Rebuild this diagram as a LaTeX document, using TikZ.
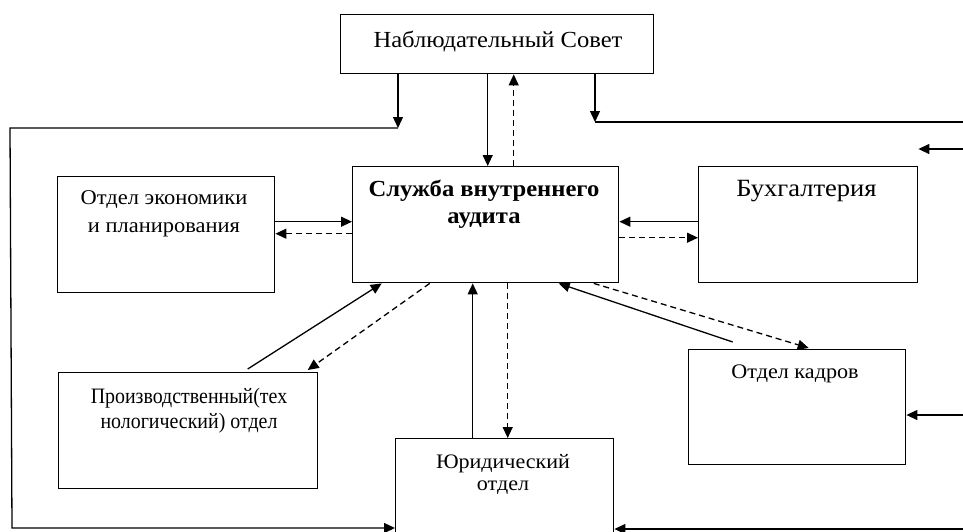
\documentclass[tikz,border=0pt]{standalone}
\usepackage{fontspec}
\setmainfont[FakeStretch=1.07]{Liberation Serif}
\newfontfamily\narrowserif[FakeStretch=0.905]{Liberation Serif}
\usetikzlibrary{arrows.meta}
\begin{document}
\begin{tikzpicture}[x=1pt,y=-1pt,
  box/.style={draw, line width=1.4pt, rectangle, inner sep=0, anchor=north west},
  lbl/.style={inner sep=0, align=center},
  conn/.style={line width=1.3pt, -{Triangle[length=11pt,width=10pt]}},
  dconn/.style={conn, dash pattern=on 6pt off 4pt},
  wire/.style={line width=1.3pt}]
\useasboundingbox (0,0) rectangle (963,531);
\clip (0,0) rectangle (963,531);

% boxes
\node[box, minimum width=313pt, minimum height=59pt]  (sovet)   at (340,14)  {};
\node[box, minimum width=266pt, minimum height=116pt] (sluzhba) at (352,166) {};
\node[box, minimum width=217pt, minimum height=116pt] (econ)    at (57,176)  {};
\node[box, minimum width=219pt, minimum height=116pt] (buh)     at (698,166) {};
\node[box, minimum width=259pt, minimum height=116pt] (prod)    at (58,372)  {};
\node[box, minimum width=218pt, minimum height=130pt] (yur)     at (395,438) {};
\node[box, minimum width=217pt, minimum height=115pt] (kadry)   at (688,349) {};

% labels
\node[lbl, anchor=base, font=\fontsize{23}{27}\selectfont] (sovetlbl) at (498,47) {Наблюдательный Совет};
\node[lbl, anchor=north, font=\fontsize{23}{27}\selectfont\bfseries] (sluzhbalbl) at (484,177.1) {\strut Служба внутреннего\\аудита};
\node[lbl, anchor=north, font=\fontsize{21}{28}\selectfont] (econlbl) at (164,184.4) {\strut Отдел экономики\\и планирования};
\node[lbl, anchor=base, font=\fontsize{24.8}{30}\selectfont] (buhlbl) at (806.5,196) {Бухгалтерия};
\node[lbl, anchor=north, font=\narrowserif\fontsize{22}{25}\selectfont] (prodlbl) at (189,385.5) {\strut Производственный(тех\\нологический) отдел};
\node[lbl, anchor=north, font=\fontsize{20.6}{22}\selectfont] (yurlbl) at (503,452.6) {\strut Юридический\\отдел};
\node[lbl, anchor=base, font=\fontsize{20.7}{26}\selectfont] (kadrylbl) at (795,378) {Отдел кадров};

% free ends of the outer feedback lines
\coordinate (sovL)    at (398,128);
\coordinate (lcorner) at (10,128);
\coordinate (lbottom) at (12,528);
\coordinate (sovR)    at (595,122);
\coordinate (rtop)    at (963,122);
\coordinate (rbuh)    at (963,149);
\coordinate (rkad)    at (963,415);
\coordinate (rbot)    at (963,529);

% supervisory board
\draw[conn] (sovet.south -| sovL) -- (sovL);
\draw[conn] (sovL) -- (lcorner) -- (lbottom) -- (yur.west |- lbottom);
\draw[conn] (sovet.south -| sovR) -- (sovR);
\draw[wire] (sovR) -- (rtop);
\draw[conn] ([xshift=-9.5pt]sovet.south) -- ([xshift=-9.5pt]sovet.south |- sluzhba.north);
\draw[dconn] ([xshift=16.5pt]sovet.south |- sluzhba.north) -- ([xshift=16.5pt]sovet.south);

% inputs from the right edge
\draw[conn] (rbuh) -- (buh.east |- rbuh);
\draw[conn] (rkad) -- (kadry.east |- rkad);
\draw[conn] (rbot) -- (yur.east |- rbot);

% economics and planning
\draw[conn] ([yshift=13pt]econ.east) -- ([yshift=13pt]econ.east -| sluzhba.west);
\draw[dconn] ([yshift=1pt]econ.east -| sluzhba.west) -- ([yshift=1pt]econ.east);

% accounting
\draw[conn] ([yshift=3pt]buh.west) -- ([yshift=3pt]buh.west -| sluzhba.east);
\draw[dconn] ([yshift=-13pt]buh.west -| sluzhba.east) -- ([yshift=-13pt]buh.west);

% production
\draw[conn] ([xshift=59.5pt,yshift=3pt]prod.north) -- ([xshift=-104pt]sluzhba.south);
\draw[dconn] ([xshift=-56pt]sluzhba.south) -- ([xshift=119.5pt,yshift=2pt]prod.north);

% legal
\draw[conn] ([xshift=-32pt]yur.north) -- ([xshift=-32pt]yur.north |- sluzhba.south);
\draw[dconn] ([xshift=3pt]yur.north |- sluzhba.south) -- ([xshift=3pt]yur.north);

% human resources
\draw[conn] ([xshift=-64.5pt,yshift=7pt]kadry.north) -- ([xshift=73pt]sluzhba.south);
\draw[dconn] ([xshift=108pt]sluzhba.south) -- ([xshift=11.5pt,yshift=1pt]kadry.north);
\end{tikzpicture}
\end{document}
